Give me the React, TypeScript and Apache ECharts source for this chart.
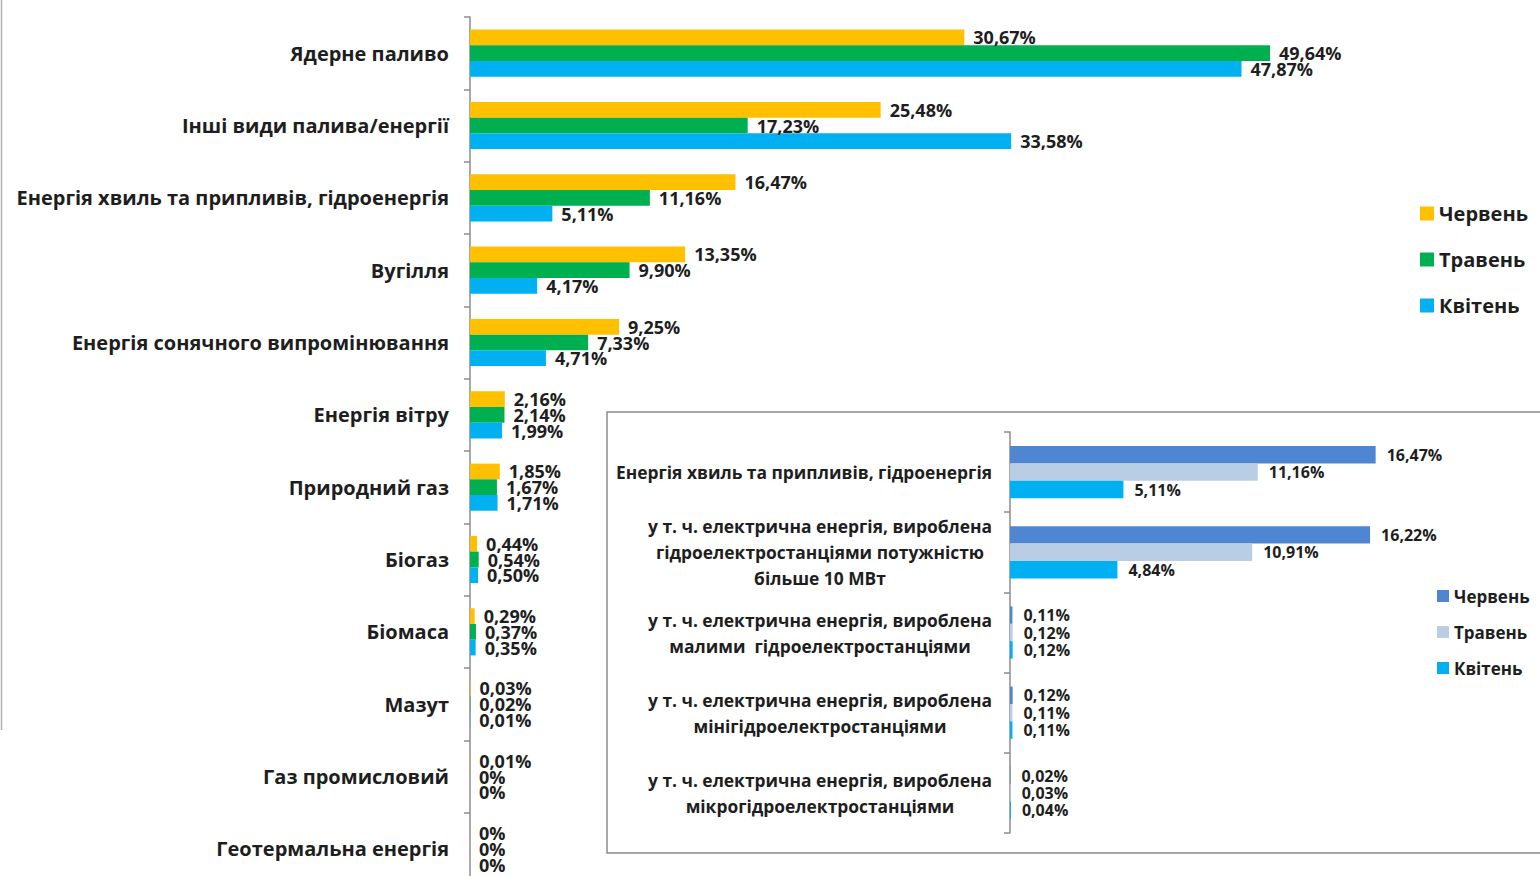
import React, { useEffect, useRef } from "react";
import * as echarts from "echarts";

const categories = [
  "Ядерне паливо",
  "Інші види палива/енергії",
  "Енергія хвиль та припливів, гідроенергія",
  "Вугілля",
  "Енергія сонячного випромінювання",
  "Енергія вітру",
  "Природний газ",
  "Біогаз",
  "Біомаса",
  "Мазут",
  "Газ промисловий",
  "Геотермальна енергія",
];
const june = [30.67, 25.48, 16.47, 13.35, 9.25, 2.16, 1.85, 0.44, 0.29, 0.03, 0.01, 0];
const may = [49.64, 17.23, 11.16, 9.9, 7.33, 2.14, 1.67, 0.54, 0.37, 0.02, 0, 0];
const april = [47.87, 33.58, 5.11, 4.17, 4.71, 1.99, 1.71, 0.5, 0.35, 0.01, 0, 0];

const insetCategories = [
  "Енергія хвиль та припливів, гідроенергія",
  "у т. ч. електрична енергія, вироблена\nгідроелектростанціями потужністю\nбільше 10 МВт",
  "у т. ч. електрична енергія, вироблена\nмалими  гідроелектростанціями",
  "у т. ч. електрична енергія, вироблена\nмінігідроелектростанціями",
  "у т. ч. електрична енергія, вироблена\nмікрогідроелектростанціями",
];
const insetJune = [16.47, 16.22, 0.11, 0.12, 0.02];
const insetMay = [11.16, 10.91, 0.12, 0.11, 0.03];
const insetApril = [5.11, 4.84, 0.12, 0.11, 0.04];

const seriesNames = ["Червень", "Травень", "Квітень"];
const mainColors = ["#FFC000", "#00B050", "#00B0F0"];
const insetColors = ["#4F86D2", "#B9CDE5", "#00B0F0"];

const FONT = "'Open Sans', 'Noto Sans', sans-serif";
const TXT = "#1e1e1e";

const fmt = (v: number) => (v === 0 ? "0%" : v.toFixed(2).replace(".", ",") + "%");

export default function App() {
  const ref = useRef<HTMLDivElement>(null);
  useEffect(() => {
    if (!ref.current) return;
    const chart = echarts.init(ref.current, undefined, { renderer: "svg" });
    const mainData = [june, may, april];
    const insetData = [insetJune, insetMay, insetApril];
    const option: any = {
      animation: false,
      backgroundColor: "#ffffff",
      textStyle: { fontFamily: FONT },
      graphic: [
        {
          type: "line",
          shape: { x1: 1.5, y1: 0, x2: 1.5, y2: 730 },
          style: { stroke: "#b0b0b0", lineWidth: 1.5 },
          z: 0,
        },
        {
          type: "rect",
          shape: { x: 607, y: 412, width: 945, height: 441 },
          style: { fill: "#ffffff", stroke: "#8c8c8c", lineWidth: 1.5 },
          z: 0,
        },
      ],
      legend: [
        {
          data: seriesNames,
          orient: "vertical",
          left: 1420,
          top: 203,
          padding: 0,
          itemWidth: 14,
          itemHeight: 14,
          itemGap: 25,
          icon: "rect",
          textStyle: { fontSize: 20, fontWeight: "bold", color: TXT, fontFamily: FONT, lineHeight: 21 },
        },
        {
          data: seriesNames.map((n) => n + " "),
          orient: "vertical",
          left: 1437,
          top: 587,
          padding: 0,
          itemWidth: 12,
          itemHeight: 12,
          itemGap: 18,
          icon: "rect",
          formatter: (n: string) => n.trim(),
          textStyle: { fontSize: 17, fontWeight: "bold", color: TXT, fontFamily: FONT, lineHeight: 18 },
        },
      ],
      grid: [
        { left: 470, top: 17, width: 967, height: 868, containLabel: false },
        { left: 1010, top: 432, width: 444, height: 401, containLabel: false },
      ],
      xAxis: [
        { type: "value", gridIndex: 0, min: 0, max: 60, show: false },
        { type: "value", gridIndex: 1, min: 0, max: 20, show: false },
      ],
      yAxis: [
        {
          type: "category",
          gridIndex: 0,
          data: categories,
          inverse: true,
          axisLine: { show: true, lineStyle: { color: "#8c8c8c", width: 1.5 } },
          axisTick: { show: true, length: 6, lineStyle: { color: "#8c8c8c", width: 1.5 } },
          axisLabel: { fontSize: 20, fontWeight: "bold", color: TXT, margin: 21, fontFamily: FONT },
        },
        {
          type: "category",
          gridIndex: 1,
          inverse: true,
          data: insetCategories,
          axisLine: { show: true, lineStyle: { color: "#8c8c8c", width: 1.5 } },
          axisTick: { show: true, length: 6, lineStyle: { color: "#8c8c8c", width: 1.5 } },
          axisLabel: {
            fontSize: 17.4,
            fontWeight: "bold",
            color: TXT,
            margin: 190,
            align: "center",
            lineHeight: 26,
            fontFamily: FONT,
            formatter: (v: string, i: number) => (i === 0 ? "{a|" + v + "}" : v),
            rich: {
              a: {
                fontSize: 17.4,
                fontWeight: "bold",
                color: TXT,
                fontFamily: FONT,
                lineHeight: 26,
                padding: [0, 32, 0, 0],
              },
            },
          },
        },
      ],
      series: [
        ...seriesNames.map((name, i) => ({
          type: "bar",
          name,
          xAxisIndex: 0,
          yAxisIndex: 0,
          data: mainData[i],
          barWidth: 15.7,
          barGap: "0%",
          itemStyle: { color: mainColors[i] },
          label: {
            show: true,
            position: "right",
            distance: 9,
            fontSize: 18,
            fontWeight: "bold",
            color: TXT,
            fontFamily: FONT,
            formatter: (p: any) => fmt(p.value),
          },
        })),
        ...seriesNames.map((name, i) => ({
          type: "bar",
          name: name + " ",
          xAxisIndex: 1,
          yAxisIndex: 1,
          data: insetData[i],
          barWidth: 17.4,
          barGap: "0%",
          itemStyle: { color: insetColors[i] },
          label: {
            show: true,
            position: "right",
            distance: 11,
            fontSize: 16,
            fontWeight: "bold",
            color: TXT,
            fontFamily: FONT,
            formatter: (p: any) => fmt(p.value),
          },
        })),
      ],
    };
    chart.setOption(option);
    return () => chart.dispose();
  }, []);
  return (
    <div
      ref={ref}
      style={{ position: "absolute", left: 0, top: 0, width: 1540, height: 900 }}
    />
  );
}
